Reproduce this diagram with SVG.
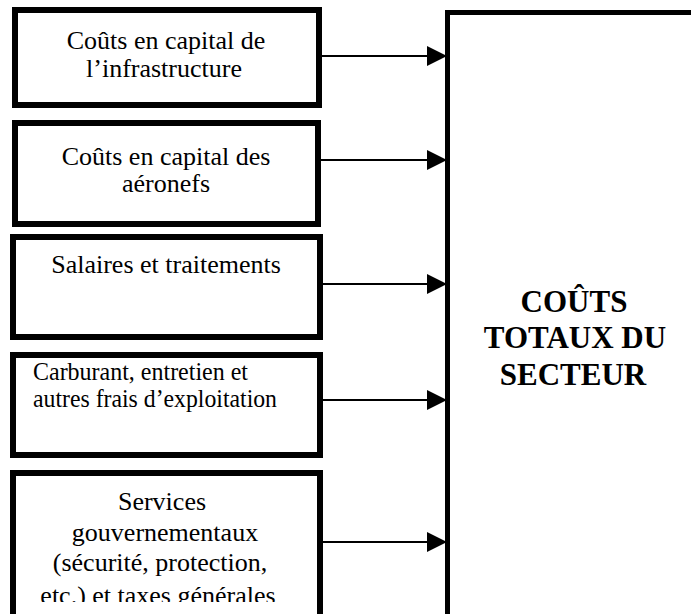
<svg xmlns="http://www.w3.org/2000/svg" width="691" height="614" viewBox="0 0 691 614">
<defs>
<style>
.box{fill:#fff;stroke:#000;stroke-width:6}
.big{fill:#fff;stroke:#000;stroke-width:5}
.t{font-family:"Liberation Serif","Times New Roman",serif;font-size:26px;fill:#000}
.c{text-anchor:middle}
.b{font-family:"Liberation Serif","Times New Roman",serif;font-size:31px;font-weight:bold;text-anchor:middle;fill:#000}
.conn{stroke:#000;stroke-width:2;fill:none}
</style>
<marker id="ah" markerUnits="userSpaceOnUse" markerWidth="20" markerHeight="20" refX="20" refY="10" orient="auto">
<path d="M0,0 L20,10 L0,20 Z" fill="#000"/>
</marker>
<clipPath id="clip5"><rect x="0" y="470" width="330" height="132"/></clipPath>
</defs>
<rect width="691" height="614" fill="#fff"/>
<g id="total">
<rect class="big" x="447.5" y="12.5" width="260" height="620"/>
<text class="b" x="574" y="312">COÛTS</text>
<text class="b" x="575" y="348">TOTAUX DU</text>
<text class="b" x="573" y="385">SECTEUR</text>
</g>
<g id="n1">
<rect class="box" x="15" y="10" width="304" height="95"/>
<text class="t c" x="166" y="49">Coûts en capital de</text>
<text class="t c" x="164" y="77">l’infrastructure</text>
</g>
<g id="n2">
<rect class="box" x="15" y="123" width="303" height="101"/>
<text class="t c" x="166" y="165">Coûts en capital des</text>
<text class="t c" x="166" y="192">aéronefs</text>
</g>
<g id="n3">
<rect class="box" x="13" y="237" width="307" height="100"/>
<text class="t c" x="166" y="273">Salaires et traitements</text>
</g>
<g id="n4">
<rect class="box" x="13" y="355" width="307" height="100"/>
<text class="t" x="33" y="380" textLength="215" lengthAdjust="spacingAndGlyphs">Carburant, entretien et</text>
<text class="t" x="33" y="407" textLength="244" lengthAdjust="spacingAndGlyphs">autres frais d’exploitation</text>
</g>
<g id="n5">
<rect class="box" x="13" y="473" width="307" height="160"/>
<g clip-path="url(#clip5)">
<text class="t c" x="162" y="510">Services</text>
<text class="t c" x="165" y="541">gouvernementaux</text>
<text class="t c" x="160" y="571">(sécurité, protection,</text>
<text class="t c" x="158" y="604">etc.) et taxes générales</text>
</g>
</g>
<g id="connectors">
<line class="conn" x1="322" y1="56" x2="447" y2="56" marker-end="url(#ah)"/>
<line class="conn" x1="321" y1="160" x2="447" y2="160" marker-end="url(#ah)"/>
<line class="conn" x1="323" y1="284" x2="447" y2="284" marker-end="url(#ah)"/>
<line class="conn" x1="323" y1="400" x2="447" y2="400" marker-end="url(#ah)"/>
<line class="conn" x1="323" y1="542" x2="447" y2="542" marker-end="url(#ah)"/>
</g>
</svg>
